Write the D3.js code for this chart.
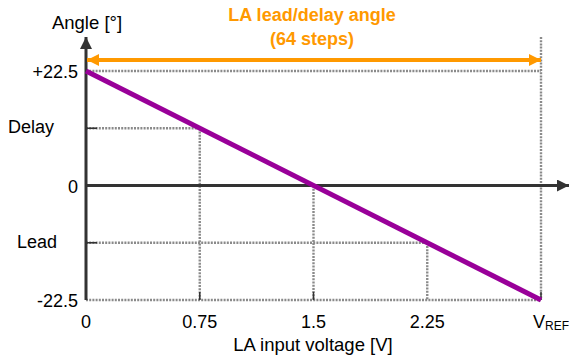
<!DOCTYPE html>
<html><head><meta charset="utf-8">
<script src="https://cdn.jsdelivr.net/npm/d3@7"></script>
<style>body{margin:0;background:#fff}text{font-family:"Liberation Sans",Arial,sans-serif}</style>
</head><body><svg id="c" width="569" height="361"></svg>
<script>
const xTicks = [0, 0.75, 1.5, 2.25, 3.0];
const xTickLabels = ["0", "0.75", "1.5", "2.25", "VREF"];
const yTicks = [22.5, 0, -22.5];
const yTickLabels = ["+22.5", "0", "-22.5"];
const ySideLabels = [{v: 11.25, t: "Delay"}, {v: -11.25, t: "Lead"}];
const lineX = [0, 3.0];
const lineY = [22.5, -22.5];
const guides = [[0.75, 11.25], [1.5, 0], [2.25, -11.25]];

const svg = d3.select("#c");
const x = d3.scaleLinear().domain([0, 3]).range([86, 541]);
const y = d3.scaleLinear().domain([-22.5, 22.5]).range([300, 71]);

const defs = svg.append("defs");
function marker(id, color, w, h) {
  defs.append("marker").attr("id", id).attr("viewBox", "0 0 10 10").attr("refX", 10).attr("refY", 5)
    .attr("markerUnits", "userSpaceOnUse").attr("markerWidth", w).attr("markerHeight", h).attr("orient", "auto-start-reverse")
    .append("path").attr("d", "M0,0L10,5L0,10Z").attr("fill", color);
}
marker("ax", "#333", 15, 12);
marker("or", "#ff9900", 14, 12);

const dot = {stroke: "#8a8a8a", "stroke-width": 2.4, "stroke-dasharray": "2,1.2"};
function dl(x1, y1, x2, y2) {
  const l = svg.append("line").attr("x1", x1).attr("y1", y1).attr("x2", x2).attr("y2", y2);
  for (const k in dot) l.attr(k, dot[k]);
}
// dotted guides
dl(x(0), y(22.5), x(3), y(22.5));
dl(x(0), y(-22.5), x(3), y(-22.5));
dl(x(3), 37, x(3), y(-22.5));
guides.forEach(([gx, gy]) => {
  if (gy !== 0) dl(x(0), y(gy), x(gx), y(gy));
  dl(x(gx), y(gy), x(gx), y(-22.5));
});
// small ticks
[11.25, -11.25].forEach(v => svg.append("line").attr("x1", x(0)).attr("x2", x(0) + 11).attr("y1", y(v)).attr("y2", y(v)).attr("stroke", "#333").attr("stroke-width", 1.5));
[0.75, 1.5, 3.0].forEach(v => svg.append("line").attr("x1", x(v)).attr("x2", x(v)).attr("y1", y(-22.5)).attr("y2", y(-22.5) - 8).attr("stroke", "#333").attr("stroke-width", 1.5));

// axes
svg.append("line").attr("x1", x(0)).attr("y1", y(-22.5)).attr("x2", x(0)).attr("y2", 37)
  .attr("stroke", "#333").attr("stroke-width", 3).attr("marker-end", "url(#ax)");
svg.append("line").attr("x1", x(0)).attr("y1", y(0)).attr("x2", 569).attr("y2", y(0))
  .attr("stroke", "#333").attr("stroke-width", 3).attr("marker-end", "url(#ax)");

// orange arrow
svg.append("line").attr("x1", x(0) + 1).attr("y1", 60).attr("x2", x(3)).attr("y2", 60)
  .attr("stroke", "#ff9900").attr("stroke-width", 4).attr("marker-end", "url(#or)").attr("marker-start", "url(#or)");

// purple line
svg.append("path").datum(lineX.map((d, i) => [d, lineY[i]]))
  .attr("d", d3.line().x(d => x(d[0])).y(d => y(d[1])))
  .attr("stroke", "#990099").attr("stroke-width", 5).attr("fill", "none");

// labels
const fs = 18;
yTicks.forEach((v, i) => svg.append("text").attr("x", 78).attr("y", y(v) + 7).attr("text-anchor", "end")
  .attr("font-size", fs).attr("fill", "#000").text(yTickLabels[i]));
ySideLabels.forEach(d => svg.append("text").attr("x", d.t === "Delay" ? 8 : 17).attr("y", y(d.v) + 5)
  .attr("font-size", fs).attr("fill", "#000").text(d.t));
xTicks.forEach((v, i) => {
  const t = svg.append("text").attr("x", x(v)).attr("y", 328).attr("text-anchor", "middle").attr("font-size", fs).attr("fill", "#000");
  if (xTickLabels[i] === "VREF") {
    t.append("tspan").text("V");
    t.append("tspan").attr("font-size", 12).attr("dy", 2).text("REF");
    t.attr("x", x(v) + 10);
  } else t.text(xTickLabels[i]);
});
svg.append("text").attr("x", 313).attr("y", 351).attr("text-anchor", "middle").attr("font-size", 18.5).text("LA input voltage [V]");
svg.append("text").attr("x", 87).attr("y", 29).attr("text-anchor", "middle").attr("font-size", 18.5).text("Angle [°]");
svg.append("text").attr("x", 312).attr("y", 21).attr("text-anchor", "middle").attr("font-size", fs).attr("font-weight", "bold").attr("fill", "#ff9900").text("LA lead/delay angle");
svg.append("text").attr("x", 312).attr("y", 45).attr("text-anchor", "middle").attr("font-size", fs).attr("font-weight", "bold").attr("fill", "#ff9900").text("(64 steps)");
</script></body></html>
